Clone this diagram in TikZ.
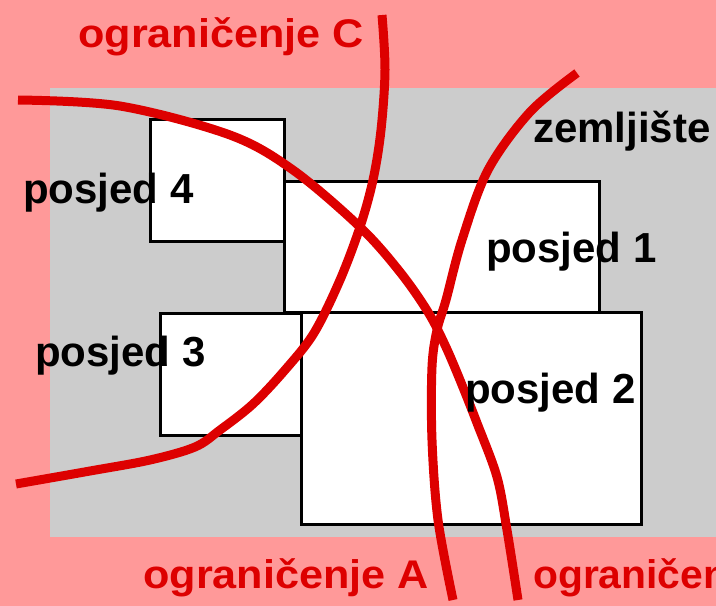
\documentclass[tikz,border=0pt]{standalone}
\usepackage{fontspec}
\setmainfont{Liberation Sans}
\definecolor{bgpink}{HTML}{FF9999}
\definecolor{landgrey}{HTML}{CCCCCC}
\definecolor{limred}{HTML}{DD0000}
\begin{document}
\begin{tikzpicture}[x=1pt,y=-1pt,
  parcel/.style={draw=black,line width=3pt,fill=white},
  limit/.style={draw=limred,line width=9pt,line cap=butt},
  lbl/.style={anchor=base west,inner sep=0pt,font=\fontsize{42}{42}\selectfont\bfseries},
  rlbl/.style={lbl,text=limred,xscale=1.08,font=\fontsize{40}{40}\selectfont\bfseries}]
\fill[bgpink] (0,0) rectangle (716,606);
\useasboundingbox (0,0) rectangle (716,606);
\fill[landgrey] (50,88) rectangle (716,537);
\draw[parcel] (150,119) rectangle (284,241);
\draw[parcel] (284,181) rectangle (599,312);
\draw[parcel] (160,313) rectangle (301,435);
\draw[parcel] (301,312) rectangle (641,524);
% limit A (top-left to bottom)
\draw[limit] plot[smooth,tension=0.55] coordinates {(18,100) (120,106) (230,135) (293,170) (360,227) (400,272) (428,312) (445,345) (460,380) (477,423) (497,477) (507,530) (518,600)};
% limit C (top to left)
\draw[limit] plot[smooth,tension=0.55] coordinates {(382,15) (385,70) (381,130) (373,180) (360,227) (340,280) (314,333) (285,370) (253,404) (220,430) (195,447) (150,460) (90,471) (16,484)};
% limit B (top-right to bottom)
\draw[limit] plot[smooth,tension=0.55] coordinates {(577,73) (530,112) (488,170) (462,240) (446,300) (437,330) (432,367) (432,440) (438,520) (453,600)};
\node[lbl] (z) at (533,142) {zemljište};
\node[lbl] (p4) at (23,203) {posjed 4};
\node[lbl] (p1) at (486,262) {posjed 1};
\node[lbl] (p3) at (35,366) {posjed 3};
\node[lbl] (p2) at (465,403) {posjed 2};
\node[rlbl] (lc) at (78,47) {ograničenje C};
\node[rlbl] (la) at (143,588) {ograničenje A};
\node[rlbl,xscale=0.945] (lb) at (533,588) {ograničenje B};
\end{tikzpicture}
\end{document}
